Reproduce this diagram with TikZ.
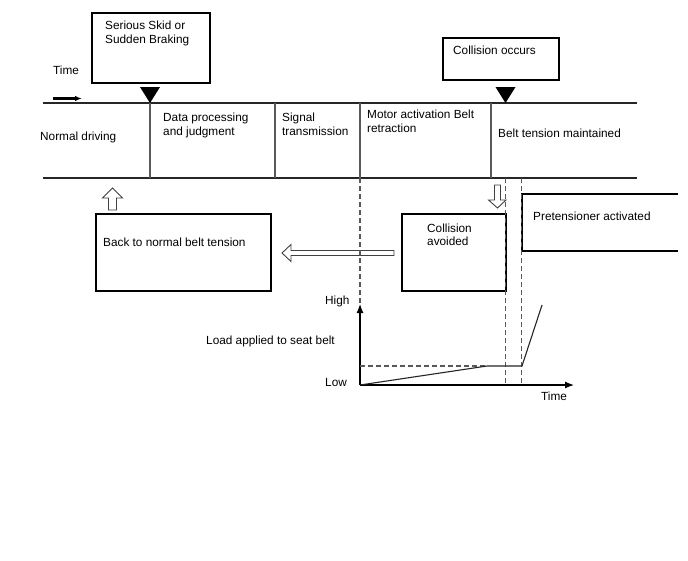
\documentclass[tikz,border=0pt]{standalone}
\usepackage{fontspec}
\setmainfont{Liberation Sans}
\usetikzlibrary{arrows.meta}
\begin{document}
\begin{tikzpicture}[x=1pt,y=-1pt,
  box/.style={draw=black,line width=1.4pt,inner sep=0pt},
  lbl/.style={anchor=base west,inner sep=0pt,font=\fontsize{11.8}{14}\selectfont},
  band/.style={draw=black!85,line width=1.7pt},
  divider/.style={draw=black!65,line width=1.1pt},
  guide/.style={draw=black!65,line width=1.1pt,dash pattern=on 5pt off 3pt},
  hollow/.style={draw=black!75,line width=0.9pt,fill=white},
  marker/.style={fill=black},
  axis/.style={draw=black,line width=1.2pt,-{Latex[length=9pt,width=7pt]}},
  curve/.style={draw=black!85,line width=1.1pt}]
\useasboundingbox (0,0) rectangle (688,560);
\fill[white] (0,0) rectangle (688,560);

% band
\coordinate (bandTL) at (43,103); \coordinate (bandTR) at (637,103);
\coordinate (bandBL) at (43,178); \coordinate (bandBR) at (637,178);
\draw[band] (bandTL) -- (bandTR);
\draw[band] (bandBL) -- (bandBR);
\foreach \x/\n in {150/d1,275/d2,360/d3,491/d4}{
  \coordinate (\n t) at (\x,103); \coordinate (\n b) at (\x,178);
  \draw[divider] (\n t) -- (\n b);
}

% time arrow
\node[lbl] (timeTop) at (53,74) {Time};
\coordinate (tA) at (53,98.5); \coordinate (tB) at (82,98.5);
\draw[line width=2.2pt,-{Latex[length=7pt,width=5.5pt]}] (tA) -- (tB);

% event boxes
\node[box,minimum width=118pt,minimum height=70pt] (skid) at (151,48) {};
\node[lbl] (skidT) at (105,29) {Serious Skid or};
\node[lbl] (skidT2) at (105,43) {Sudden Braking};
\fill[marker] (140,87) -- (160,87) -- (150,103) -- cycle;

\node[box,minimum width=116pt,minimum height=42pt] (coll) at (501,59) {};
\node[lbl] (collT) at (453,54) {Collision occurs};
\fill[marker] (495.5,87) -- (515.5,87) -- (505.5,103) -- cycle;

% band texts
\node[lbl] (nd) at (40,140) {Normal driving};
\node[lbl] (dp1) at (163,121) {Data processing};
\node[lbl] (dp2) at (163,135) {and judgment};
\node[lbl] (st1) at (282,121) {Signal};
\node[lbl] (st2) at (282,135) {transmission};
\node[lbl] (ma1) at (367,118) {Motor activation Belt};
\node[lbl] (ma2) at (367,132) {retraction};
\node[lbl] (bt) at (498,137) {Belt tension maintained};

% lower boxes
\node[box,minimum width=175pt,minimum height=77pt] (back) at (183.5,252.5) {};
\node[lbl] (backT) at (103,246) {Back to normal belt tension};
\node[box,minimum width=104pt,minimum height=77pt] (avoid) at (454,252.5) {};
\node[lbl] (av1) at (427,232) {Collision};
\node[lbl] (av2) at (427,245) {avoided};

% pretensioner (open right)
\coordinate (pA) at (678,194); \coordinate (pB) at (522,194);
\coordinate (pC) at (522,251); \coordinate (pD) at (678,251);
\draw[line width=1.4pt] (pA) -- (pB) -- (pC) -- (pD);
\node[lbl] (pt) at (533,220) {Pretensioner activated};

% hollow arrows
\draw[hollow] (108.5,210) -- (108.5,198) -- (102.5,198) -- (112.5,188) -- (122.5,198) -- (116.5,198) -- (116.5,210) -- cycle;
\draw[hollow] (394,250.5) -- (291,250.5) -- (291,244.5) -- (282,253) -- (291,261.5) -- (291,255.5) -- (394,255.5) -- cycle;

% guides
\coordinate (g1t) at (360,178); \coordinate (g1b) at (360,306);
\coordinate (g2t) at (505.5,178); \coordinate (g2b) at (505.5,385);
\coordinate (g3t) at (521.5,178); \coordinate (g3b) at (521.5,385);
\draw[guide] (g1t) -- (g1b);
\draw[guide] (g2t) -- (g2b);
\draw[guide] (g3t) -- (g3b);

\draw[hollow] (494.5,185) -- (494.5,200) -- (488.5,200) -- (497.5,208) -- (506,200) -- (500.5,200) -- (500.5,185) -- cycle;

% graph
\coordinate (O) at (360,385);
\coordinate (Ytop) at (360,304);
\coordinate (Xend) at (574,385);
\coordinate (hL) at (360,366);
\coordinate (hM) at (487,366);
\coordinate (hR) at (522,366);
\coordinate (rise) at (542,305);
\draw[axis] (O) -- (Ytop);
\draw[axis] (O) -- (Xend);
\draw[guide] (hL) -- (hM);
\draw[curve] (O) -- (hM) -- (hR) -- (rise);
\node[lbl] (high) at (325,304) {High};
\node[lbl] (low) at (325,386) {Low};
\node[lbl] (load) at (206,344) {Load applied to seat belt};
\node[lbl] (timeB) at (541,400) {Time};
\end{tikzpicture}
\end{document}
